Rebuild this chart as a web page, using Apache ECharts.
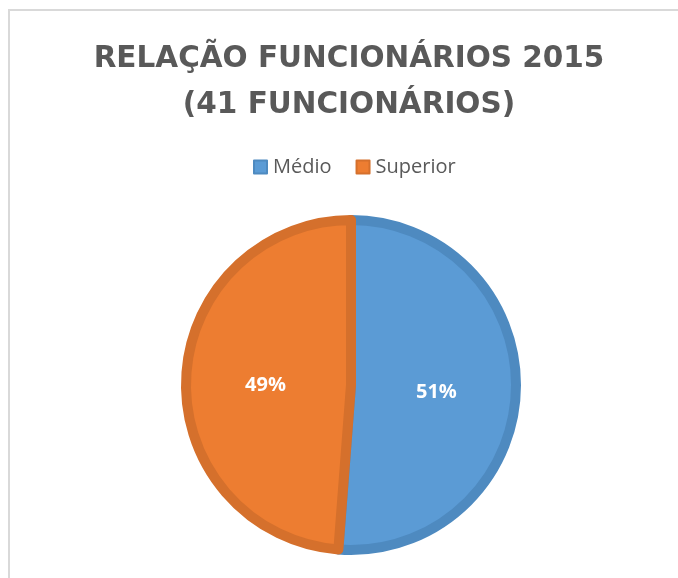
<!DOCTYPE html>
<html>
<head>
<meta charset="utf-8">
<script src="https://cdn.jsdelivr.net/npm/echarts@6/dist/echarts.min.js"></script>
<style>
  html, body { margin: 0; padding: 0; background: #fff; }
  #chart { width: 678px; height: 578px; }
</style>
</head>
<body>
<div id="chart"></div>
<script>
  // dados (41 funcionários)
  var categorias = ['Médio', 'Superior'];
  var valores = [21, 20];
  var cores = ['#5B9BD5', '#ED7D31'];
  var bordas = ['#4E8AC0', '#D5702C'];

  var chart = echarts.init(document.getElementById('chart'));

  chart.setOption({
    animation: false,
    title: {
      text: 'RELAÇÃO FUNCIONÁRIOS 2015\n(41 FUNCIONÁRIOS)',
      left: 344,
      textAlign: 'center',
      top: 31,
      textStyle: {
        fontFamily: 'DejaVu Sans',
        fontWeight: 'bold',
        fontSize: 29.5,
        lineHeight: 46,
        color: '#595959'
      }
    },
    legend: {
      top: 152,
      left: 248,
      itemWidth: 13,
      itemHeight: 13,
      itemGap: 24,
      icon: 'rect',
      data: categorias,
      textStyle: {
        fontFamily: 'Open Sans',
        fontSize: 20,
        color: '#595959',
        padding: [0, 0, 0, 1]
      }
    },
    graphic: [{
      type: 'polyline',
      shape: { points: [[9, 578], [9, 10], [678, 10]] },
      style: { stroke: '#d9d9d9', lineWidth: 2, fill: null }
    }],
    series: [{
      type: 'pie',
      center: [351, 385],
      radius: [0, 165],
      startAngle: 90,
      clockwise: true,
      label: {
        show: true,
        position: 'inside',
        formatter: function (p) { return Math.round(p.percent) + '%'; },
        fontFamily: 'Open Sans',
        fontWeight: 'bold',
        fontSize: 20,
        color: '#ffffff',
        offset: [0, 4]
      },
      labelLine: { show: false },
      emphasis: { disabled: true },
      data: categorias.map(function (c, i) {
        return {
          name: c,
          value: valores[i],
          itemStyle: { color: cores[i], borderColor: bordas[i], borderWidth: 10 }
        };
      })
    }]
  });
</script>
</body>
</html>
